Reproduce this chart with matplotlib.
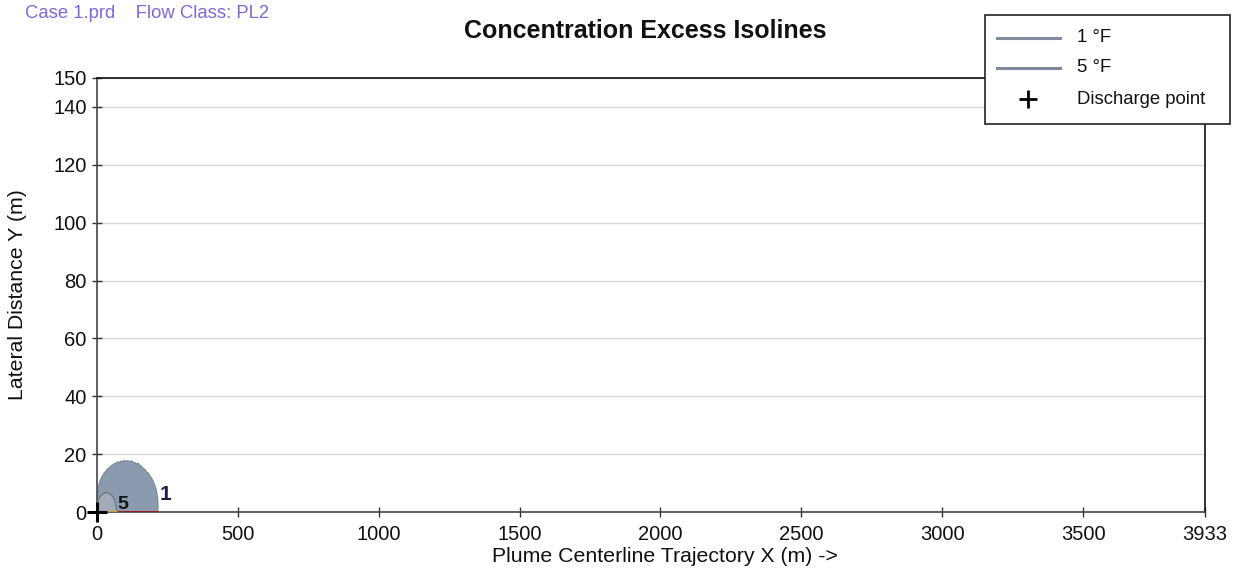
import matplotlib
matplotlib.use("Agg")
import matplotlib.pyplot as plt
from matplotlib.lines import Line2D
from matplotlib.patches import Rectangle

plt.rcParams['font.family'] = ['Liberation Sans', 'DejaVu Sans']

# Isoline outlines (upper half of plume), x along trajectory (m), y lateral (m)
iso1_x = [0, 1, 3, 6, 10, 15, 20, 26, 32, 38, 44, 50, 56, 62, 68, 74, 80, 86, 92, 98,
          104, 110, 116, 122, 128, 134, 140, 146, 152, 158, 164, 170, 176, 182, 188,
          194, 199, 204, 208, 211, 213, 215, 216, 216]
iso1_y = [0, 5.5, 7.5, 9.0, 10.4, 11.6, 12.6, 13.5, 14.1, 14.9, 15.3, 15.9, 16.2, 16.7,
          16.9, 17.3, 17.1, 17.6, 17.4, 17.8, 17.5, 17.7, 17.3, 17.6, 17.2, 17.0, 16.6,
          16.8, 16.1, 15.8, 15.0, 14.7, 13.8, 13.4, 12.4, 11.6, 10.6, 9.4, 8.2, 7.2,
          6.0, 4.5, 2.5, 0]
iso5_x = [0, 2, 5, 9, 14, 20, 26, 32, 38, 44, 50, 56, 61, 65, 68, 70]
iso5_y = [0, 3.0, 4.2, 5.0, 5.7, 6.2, 6.5, 6.7, 6.6, 6.4, 6.0, 5.3, 4.4, 3.2, 1.8, 0]

# Centerline extents of each isoline
extent5 = [0, 70]
extent1 = [75, 216]

# Label anchors for isolines
label1 = (224, 6.0, "1")
label5 = (72, 2.6, "5")

discharge = (0, 0)

x_ticks = [0, 500, 1000, 1500, 2000, 2500, 3000, 3500, 3933]
y_ticks = [0, 20, 40, 60, 80, 100, 120, 140, 150]
x_max = 3933
y_max = 150

legend_labels = ['1 °F', '5 °F', 'Discharge point']

W, H = 1246, 571
fig = plt.figure(figsize=(W / 100, H / 100), dpi=100)
ax = fig.add_axes([97 / W, 59 / H, 1108 / W, 434 / H])


def fx(px):
    return px / W


def fy(py):
    return 1 - py / H


fill1 = '#8B9BAF'
edge1 = '#7E8B9D'
fill5 = '#A2ABB6'
edge5 = '#737D8A'

ax.fill(iso1_x, iso1_y, facecolor=fill1, edgecolor=edge1, lw=1.0, zorder=2)
ax.fill(iso5_x, iso5_y, facecolor=fill5, edgecolor=edge5, lw=1.0, zorder=3)

ax.plot(extent5, [0, 0], color='#D4A017', lw=2, zorder=4, solid_capstyle='butt')
ax.plot(extent1, [0, 0], color='#A01818', lw=2, zorder=4, solid_capstyle='butt')

ax.text(label1[0], label1[1], label1[2], fontsize=15, fontweight='bold',
        color='#1B1B4A', ha='left', va='center', zorder=5)
ax.text(label5[0], label5[1], label5[2], fontsize=14, fontweight='bold',
        color='#111111', ha='left', va='center', zorder=5)

ax.plot([discharge[0]], [discharge[1]], marker='+', color='black', ms=15,
        mew=2.2, zorder=6, clip_on=False)

ax.set_xlim(0, x_max)
ax.set_ylim(0, y_max)
ax.set_xticks(x_ticks)
ax.set_yticks(y_ticks)
ax.set_xticklabels([str(t) for t in x_ticks])
ax.set_yticklabels([str(t) for t in y_ticks])
ax.tick_params(direction='inout', length=7, width=1, colors='#333333',
               labelcolor='#111111', labelsize=14.5)
ax.tick_params(axis='x', pad=6)
ax.tick_params(axis='y', pad=4)

ax.yaxis.grid(True, color='#D9D9D9', lw=1)
ax.set_axisbelow(True)
for side in ['left', 'bottom']:
    ax.spines[side].set_color('#444444')
    ax.spines[side].set_linewidth(1.2)
for side in ['top', 'right']:
    ax.spines[side].set_color('#111111')
    ax.spines[side].set_linewidth(1.2)

fig.text(fx(665), fy(556), 'Plume Centerline Trajectory X (m) ->', fontsize=15.3,
         ha='center', va='center', color='#111111')
fig.text(fx(18), fy(295), 'Lateral Distance Y (m)', fontsize=15.3, rotation=90,
         ha='center', va='center', color='#111111')

fig.text(fx(645), fy(31), 'Concentration Excess Isolines', fontsize=18,
         fontweight='bold', ha='center', va='center', color='#111111')
fig.text(fx(25), fy(14), 'Case 1.prd    Flow Class: PL2', fontsize=13.3,
         ha='left', va='center', color='#7B68E0')

# Legend box drawn in figure pixels
fig.patches.append(Rectangle((fx(985), fy(124)), fx(1230) - fx(985), fy(15) - fy(124),
                             transform=fig.transFigure, facecolor='white',
                             edgecolor='#222222', lw=1.2, zorder=10))
rows_y = [38, 68, 99]
for i, (lab, ry) in enumerate(zip(legend_labels, rows_y)):
    if i < 2:
        fig.lines.append(Line2D([fx(997), fx(1060)], [fy(ry), fy(ry)],
                                transform=fig.transFigure, color='#7F8A9A',
                                lw=2.2, zorder=11))
    else:
        fig.lines.append(Line2D([fx(1028)], [fy(ry)], transform=fig.transFigure,
                                color='black', marker='+', ms=13, mew=2,
                                ls='none', zorder=11))
    fig.text(fx(1077), fy(ry), lab, fontsize=13.3, ha='left', va='center',
             color='#111111', zorder=12)

fig.savefig('out.png', dpi=100)
